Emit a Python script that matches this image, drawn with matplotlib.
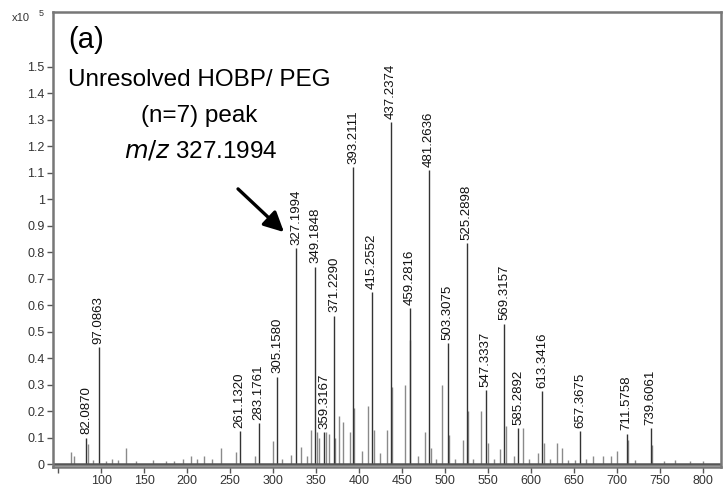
import matplotlib.pyplot as plt

plt.rcParams['font.family'] = ['Liberation Sans', 'DejaVu Sans']

# labelled peaks (m/z, intensity x10^5)
peak_mz = [82.0870, 97.0863, 261.1320, 283.1761, 305.1580, 327.1994, 349.1848,
           359.3167, 371.2290, 393.2111, 415.2552, 437.2374, 459.2816, 481.2636,
           503.3075, 525.2898, 547.3337, 569.3157, 585.2892, 613.3416, 657.3675,
           711.5758, 739.6061]
peak_int = [0.10, 0.44, 0.125, 0.155, 0.33, 0.815, 0.745,
            0.12, 0.56, 1.12, 0.65, 1.29, 0.59, 1.11,
            0.455, 0.834, 0.28, 0.53, 0.135, 0.275, 0.125,
            0.115, 0.135]

# unlabelled smaller peaks
minor_mz = [65, 68, 84, 90, 105, 113, 120, 129, 140, 160,
            175, 185, 195, 205, 212, 220, 229, 239, 257, 279,
            300, 310, 321, 332.5, 339, 344, 351, 354, 362, 365,
            372, 377, 382, 389, 394.6, 404, 410, 417, 425, 433,
            438.5, 453.6, 460, 469, 477, 484, 490, 496.7, 505, 512,
            521, 527, 533, 541.7, 550, 557, 564, 571, 580, 591,
            598, 609, 615, 622, 630, 636, 643, 652, 664, 672,
            684, 694, 701, 713, 721, 741, 755, 768, 785, 800]
minor_int = [0.046, 0.03, 0.075, 0.015, 0.012, 0.02, 0.015, 0.06, 0.01, 0.015,
             0.01, 0.012, 0.02, 0.03, 0.018, 0.03, 0.02, 0.06, 0.045, 0.03,
             0.088, 0.02, 0.035, 0.065, 0.03, 0.13, 0.12, 0.1, 0.12, 0.115,
             0.1, 0.18, 0.16, 0.12, 0.21, 0.05, 0.22, 0.13, 0.04, 0.13,
             0.29, 0.3, 0.47, 0.03, 0.12, 0.06, 0.02, 0.3, 0.11, 0.02,
             0.09, 0.2, 0.02, 0.2, 0.08, 0.02, 0.055, 0.145, 0.03, 0.135,
             0.02, 0.04, 0.08, 0.02, 0.08, 0.06, 0.015, 0.015, 0.02, 0.03,
             0.03, 0.03, 0.05, 0.09, 0.015, 0.07, 0.01, 0.015, 0.01, 0.01]

x_ticks = [100, 150, 200, 250, 300, 350, 400, 450, 500, 550, 600, 650, 700, 750, 800]
y_ticks = [0, 0.1, 0.2, 0.3, 0.4, 0.5, 0.6, 0.7, 0.8, 0.9, 1, 1.1, 1.2, 1.3, 1.4, 1.5]

W, H = 723, 491
fig = plt.figure(figsize=(W / 100, H / 100), dpi=100)
ax = fig.add_axes([53 / W, 1 - 467 / H, (721 - 53) / W, (467 - 12) / H])

ax.vlines(minor_mz, 0, minor_int, color='#8a8a8a', lw=1)
ax.vlines(peak_mz, 0, peak_int, color='#333333', lw=1)
ax.axhline(0, color='#555555', lw=1.8)

for m, h in zip(peak_mz, peak_int):
    ax.text(m, h + 0.012, '%.4f' % m, rotation=90, ha='center', va='bottom',
            fontsize=9.5, color='#111111')

ax.set_xlim(43.8, 821.5)
ax.set_ylim(-0.0113, 1.7065)
ax.set_xticks([50] + x_ticks)
ax.set_xticklabels([''] + [str(t) for t in x_ticks])
ax.set_yticks(y_ticks)
ax.set_yticklabels(['%g' % t for t in y_ticks])
ax.tick_params(axis='both', direction='out', length=4, width=1, color='#555555',
               labelsize=9, labelcolor='#333333', pad=2)
for s in ax.spines.values():
    s.set_color('#777777')
    s.set_linewidth(1.8)

# annotation text
fig.text(12 / W, 1 - 18 / H, 'x10', fontsize=8, color='#333333', va='center')
fig.text(39 / W, 1 - 14 / H, '5', fontsize=6.5, color='#333333', va='center')
fig.text(68 / W, 1 - 40 / H, '(a)', fontsize=21, va='center')
fig.text(68 / W, 1 - 80 / H, 'Unresolved HOBP/ PEG', fontsize=17.5, va='center')
fig.text(199 / W, 1 - 116 / H, '(n=7) peak', fontsize=17.5, va='center', ha='center')
fig.text(201 / W, 1 - 150 / H, r'$\it{m/z}$ 327.1994', fontsize=17.5, va='center', ha='center')

ax.annotate('', xy=(286 / W, 1 - 234 / H), xytext=(236 / W, 1 - 187 / H),
            xycoords='figure fraction', textcoords='figure fraction',
            arrowprops=dict(arrowstyle='-|>', lw=2.4, color='black', mutation_scale=30))

fig.savefig('out.png', dpi=100)
